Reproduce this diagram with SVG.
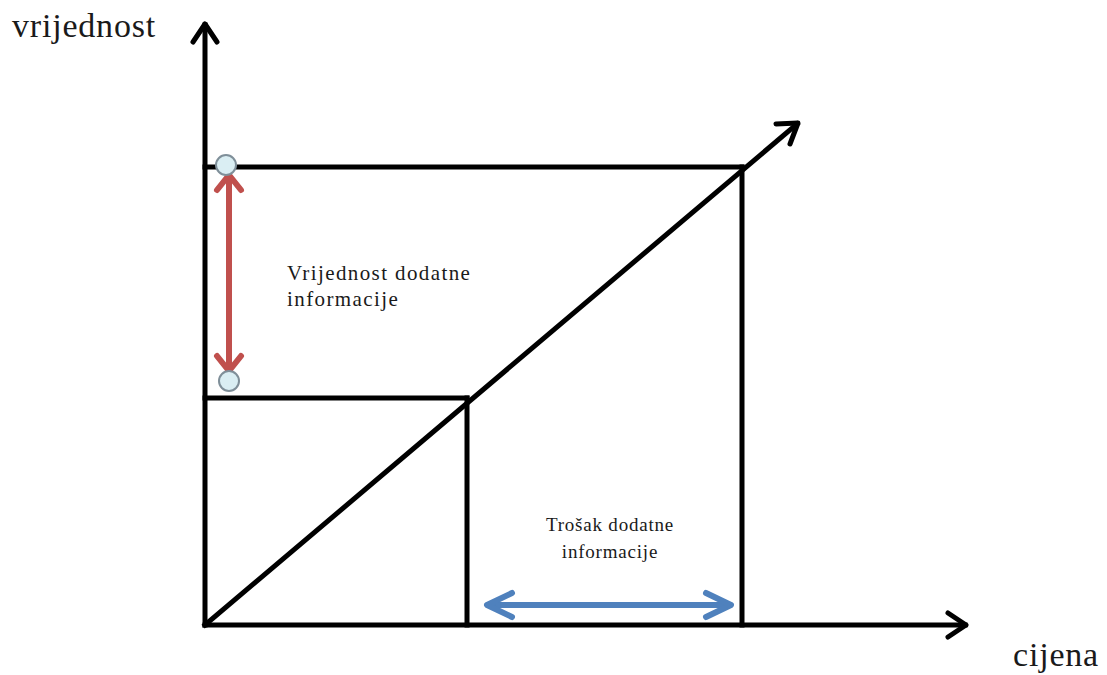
<svg xmlns="http://www.w3.org/2000/svg" width="1107" height="675" viewBox="0 0 1107 675">
<style>
.ln{stroke:#000;stroke-width:5;fill:none;stroke-linecap:square}
.ah{stroke:#000;stroke-width:5;fill:none;stroke-linecap:round;stroke-linejoin:round}
.t{font-family:"Liberation Serif",serif;fill:#1a1a1a}
.pt{fill:#daeef3;stroke:#7f8f99;stroke-width:2}
</style>
<rect width="1107" height="675" fill="#fff"/>
<g id="connectors">
<line class="ln" x1="205" y1="625" x2="205" y2="25"/>
<polyline class="ah" points="193,42 205,24 217,42"/>
<line class="ln" x1="205" y1="625" x2="965" y2="625"/>
<polyline class="ah" points="948,613 966,625 948,637"/>
<line class="ln" x1="205" y1="625" x2="797" y2="124"/>
<polyline class="ah" points="776,124 798,123 790,144"/>
<line class="ln" x1="205" y1="167" x2="742" y2="167"/>
<line class="ln" x1="742" y1="167" x2="742" y2="625"/>
<line class="ln" x1="205" y1="398" x2="467" y2="398"/>
<line class="ln" x1="467" y1="398" x2="467" y2="625"/>
<g id="red-arrow" stroke="#c0504d" stroke-width="6" fill="none" stroke-linecap="round" stroke-linejoin="round">
<line x1="229" y1="176" x2="229" y2="370"/>
<polyline points="217,190 229,175 241,190"/>
<polyline points="217,356 229,371 241,356"/>
</g>
<g id="blue-arrow" stroke="#4f81bd" stroke-width="6" fill="none" stroke-linecap="round" stroke-linejoin="round">
<line x1="488" y1="605" x2="730" y2="605"/>
<polyline points="512,593 487,605 512,617"/>
<polyline points="706,593 731,605 706,617"/>
</g>
</g>
<g id="point-top"><circle class="pt" cx="226" cy="165" r="10"/></g>
<g id="point-bottom"><circle class="pt" cx="229" cy="381" r="10"/></g>
<g id="label-y"><text class="t" x="12" y="37" font-size="34" letter-spacing="0.8">vrijednost</text></g>
<g id="label-x"><text class="t" x="1013" y="666" font-size="34" letter-spacing="0.8">cijena</text></g>
<g id="label-value"><text class="t" x="287" y="280" font-size="21" letter-spacing="1.4">Vrijednost dodatne</text><text class="t" x="287" y="306" font-size="21" letter-spacing="1.4">informacije</text></g>
<g id="label-cost"><text class="t" x="610" y="531" font-size="19" letter-spacing="0.8" text-anchor="middle">Trošak dodatne</text><text class="t" x="610" y="558" font-size="19" letter-spacing="0.8" text-anchor="middle">informacije</text></g>
</svg>
